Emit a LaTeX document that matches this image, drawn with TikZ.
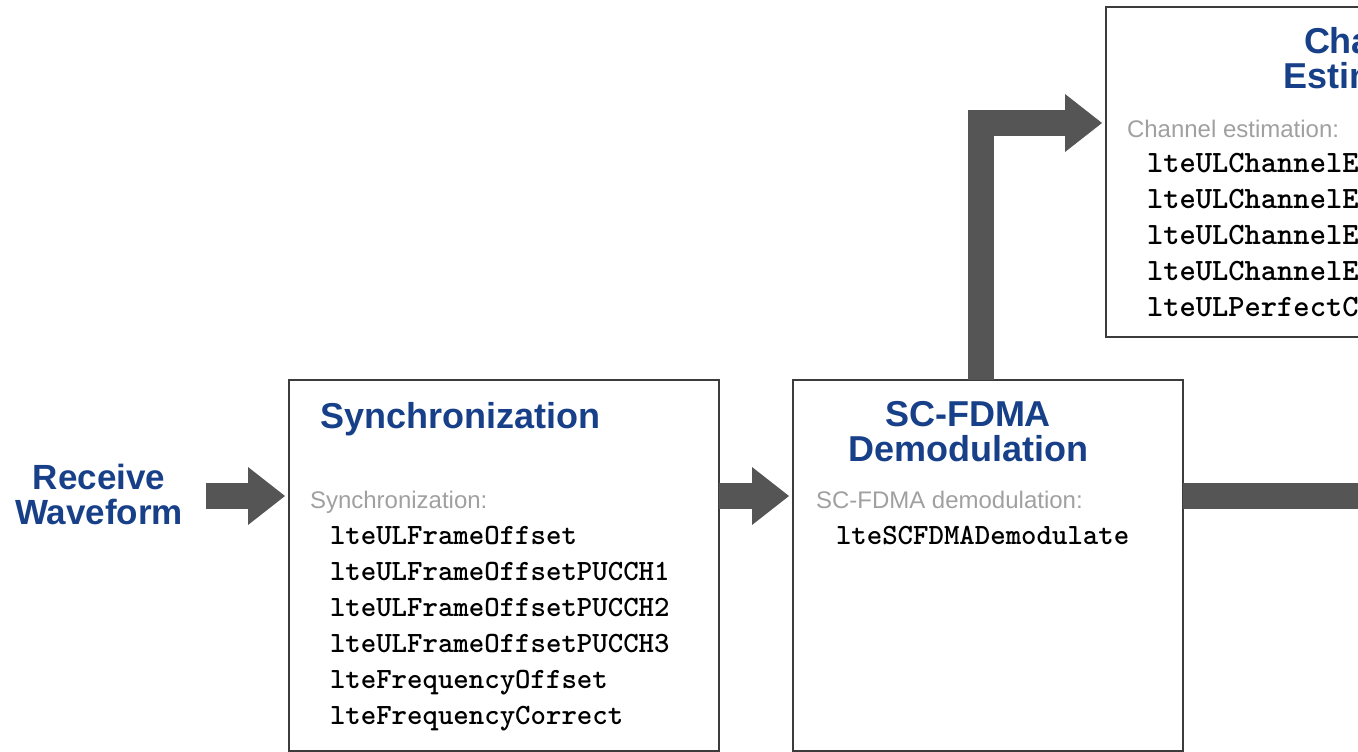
\documentclass[tikz,border=0pt]{standalone}
\usepackage{fontspec}
\setmainfont{Liberation Sans}
\usetikzlibrary{arrows.meta, calc}
\definecolor{mwblue}{HTML}{174089}
\definecolor{labelgray}{HTML}{A0A0A0}
\definecolor{flowgray}{HTML}{555555}
\definecolor{framegray}{HTML}{3C3C3C}

\begin{document}
\begin{tikzpicture}[
      x=1pt, y=-1pt,
      every node/.style={inner sep=0pt, outer sep=0pt},
      block/.style={draw=framegray, line width=2pt, anchor=north west, minimum height=371pt},
      heading/.style={font=\fontsize{36}{35.5}\selectfont\bfseries, text=mwblue, align=center},
      stagelabel/.style={font=\fontsize{24}{24}\selectfont, text=labelgray, anchor=base west},
      fcn/.style={font=\fontsize{29.4}{36}\selectfont\ttfamily\bfseries, anchor=base west},
      fcnwide/.style={fcn, font=\fontsize{31}{36}\selectfont\ttfamily\bfseries},
      flow/.style={draw=flowgray, line width=26pt, line join=miter, shorten >=4pt,
        -{Triangle[length=37pt, width=58pt, line width=0pt]}},
    ]
    \useasboundingbox (0,0) rectangle (1358,752);

    % Blocks
    \node[block, minimum width=430pt] (sync) at (289,380) {};
    \node[block, minimum width=390pt] (scfdma) at (793,380) {};
    \node[block, minimum width=538pt, minimum height=330pt] (chan) at (1106,7) {};

    % Input
    \node[heading, font=\fontsize{35}{35}\selectfont\bfseries] (recv) at (99,494) {Receive\\Waveform};

    % Synchronization
    \node[heading, anchor=base west] (synctitle) at (320,428) {Synchronization};
    \node[stagelabel] (synclabel) at (310,508) {Synchronization:};
    \node[fcn] (sync1) at (330,544) {lteULFrameOffset};
    \node[fcn] (sync2) at (330,580) {lteULFrameOffsetPUCCH1};
    \node[fcn] (sync3) at (330,616) {lteULFrameOffsetPUCCH2};
    \node[fcn] (sync4) at (330,652) {lteULFrameOffsetPUCCH3};
    \node[fcn] (sync5) at (330,688) {lteFrequencyOffset};
    \node[fcn] (sync6) at (330,724) {lteFrequencyCorrect};

    % SC-FDMA demodulation
    \node[heading] (sctitle) at (968,431.7) {SC-FDMA\\Demodulation};
    \node[stagelabel] (sclabel) at (816,508) {SC-FDMA demodulation:};
    \node[fcn] (sc1) at (836,544) {lteSCFDMADemodulate};

    % Channel estimation
    \node[heading] (chantitle) at (1375,58) {Channel\\Estimation};
    \node[stagelabel] (chanlabel) at (1127,137) {Channel estimation:};
    \node[fcnwide] (chan1) at (1147,172) {lteULChannelEstimate};
    \node[fcnwide] (chan2) at (1147,208) {lteULChannelEstimatePUCCH1};
    \node[fcnwide] (chan3) at (1147,244) {lteULChannelEstimatePUCCH2};
    \node[fcnwide] (chan4) at (1147,280) {lteULChannelEstimatePUCCH3};
    \node[fcnwide] (chan5) at (1147,316) {lteULPerfectChannelEstimate};

    % Flow arrows
    \draw[flow, shorten <=23pt] ($(recv.east)+(0,2)$) -- ($(sync.north west)+(0,116)$);
    \draw[flow] ($(sync.north east)+(0,116)$) -- ($(scfdma.north west)+(0,116)$);
    \draw[flow] ($(scfdma.north)+(-7.5,0)$) |- ($(chan.north west)+(0,116)$);
    \draw[draw=flowgray, line width=26pt] ($(scfdma.north east)+(0,116)$) -- ++(200,0);
  \end{tikzpicture}
\end{document}
